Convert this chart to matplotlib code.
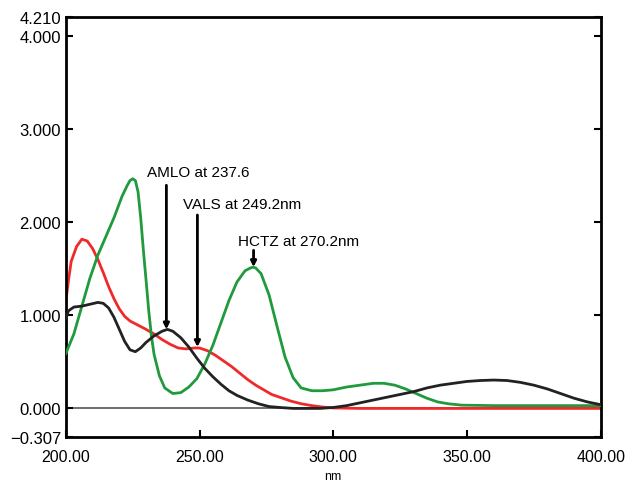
import matplotlib
matplotlib.use("Agg")
import matplotlib.pyplot as plt

plt.rcParams['font.family'] = ['Liberation Sans', 'DejaVu Sans']

# HCTZ (green)
hctz_nm = [200, 203, 206, 209, 212, 215, 218, 221, 223, 224, 225, 226, 227, 228, 229, 230,
           231, 232, 233, 235, 237, 240, 243, 246, 249, 252, 255, 258, 261, 264, 267,
           269, 270, 271, 273, 276, 279, 282, 285, 288, 292, 296, 300, 305, 310, 315, 319, 323,
           327, 331, 335, 339, 343, 348, 360, 380, 400]
hctz_abs = [0.59, 0.80, 1.10, 1.40, 1.65, 1.85, 2.05, 2.28, 2.40, 2.45, 2.47, 2.45, 2.33, 2.05, 1.70, 1.38,
            1.05, 0.78, 0.58, 0.35, 0.22, 0.16, 0.17, 0.23, 0.32, 0.48, 0.68, 0.92, 1.16, 1.36, 1.48,
            1.51, 1.52, 1.51, 1.45, 1.22, 0.88, 0.55, 0.33, 0.22, 0.19, 0.19, 0.20, 0.23, 0.25, 0.27, 0.27, 0.25,
            0.21, 0.16, 0.11, 0.07, 0.05, 0.035, 0.03, 0.03, 0.03]

# AMLO (black)
amlo_nm = [200, 201, 203, 206, 209, 212, 214, 216, 218, 220, 222, 224, 226, 228, 230,
           233, 236, 238, 240, 243, 246, 249, 252, 255, 258, 261, 264, 268, 272, 276,
           280, 285, 290, 295, 300, 305, 310, 315, 320, 325, 330, 335, 340, 345, 350,
           355, 360, 365, 370, 375, 380, 385, 390, 395, 400]
amlo_abs = [0.97, 1.05, 1.09, 1.10, 1.12, 1.14, 1.13, 1.08, 0.98, 0.85, 0.72, 0.63, 0.61, 0.65, 0.71,
            0.78, 0.83, 0.85, 0.83, 0.76, 0.66, 0.54, 0.43, 0.34, 0.26, 0.19, 0.14, 0.09, 0.05, 0.02,
            0.01, 0.0, 0.0, 0.0, 0.01, 0.03, 0.06, 0.09, 0.12, 0.15, 0.18, 0.22, 0.25, 0.27, 0.29,
            0.30, 0.305, 0.30, 0.28, 0.25, 0.21, 0.16, 0.11, 0.07, 0.04]

# VALS (red)
vals_nm = [200, 201, 202, 204, 206, 208, 210, 212, 214, 216, 218, 220, 222, 224, 226,
           228, 230, 233, 236, 239, 242, 245, 248, 250, 253, 256, 259, 262, 265, 268,
           271, 274, 277, 280, 284, 288, 292, 296, 300, 310, 400]
vals_abs = [1.15, 1.38, 1.58, 1.74, 1.82, 1.80, 1.72, 1.60, 1.46, 1.31, 1.18, 1.07, 0.99, 0.94, 0.91,
            0.88, 0.85, 0.80, 0.74, 0.69, 0.65, 0.64, 0.65, 0.65, 0.62, 0.57, 0.51, 0.45, 0.38, 0.31,
            0.25, 0.20, 0.15, 0.12, 0.08, 0.05, 0.03, 0.015, 0.005, 0.0, 0.0]

yticks = [-0.307, 0.0, 1.0, 2.0, 3.0, 4.0, 4.21]
ytick_labels = ["\u22120.307", "0.000", "1.000", "2.000", "3.000", "4.000", "4.210"]
xticks = [200, 250, 300, 350, 400]
xtick_labels = ["200.00", "250.00", "300.00", "350.00", "400.00"]

# annotations: label, wavelength, arrow top, arrow tip, text x, text y
notes = [("AMLO at 237.6", 237.6, 2.40, 0.85, 230.5, 2.54),
         ("VALS at 249.2nm", 249.2, 2.08, 0.66, 244.0, 2.20),
         ("HCTZ at 270.2nm", 270.2, 1.70, 1.52, 264.5, 1.80)]

fig = plt.figure(figsize=(6.27, 4.85), dpi=100)
ax = fig.add_axes([0.105, 0.097, 0.853, 0.866])

ax.axhline(0, color="#555555", lw=1.2, zorder=1)
ax.plot(hctz_nm, hctz_abs, color="#1f9a3c", lw=2, zorder=3)
ax.plot(vals_nm, vals_abs, color="#f02a2a", lw=2, zorder=2)
ax.plot(amlo_nm, amlo_abs, color="#222222", lw=2, zorder=4)

for label, wl, top, tip, tx, ty in notes:
    ax.annotate("", xy=(wl, tip), xytext=(wl, top),
                arrowprops=dict(arrowstyle="-|>", color="black", lw=2,
                                mutation_scale=8, shrinkA=0, shrinkB=0), zorder=5)
    ax.text(tx, ty, label, fontsize=11, va="center", ha="left", zorder=6)

ax.set_xlim(200, 400)
ax.set_ylim(-0.307, 4.21)
ax.set_xticks(xticks)
ax.set_xticklabels(xtick_labels)
ax.set_yticks(yticks)
ax.set_yticklabels(ytick_labels)
ax.tick_params(direction="in", length=5, width=1.5, labelsize=12, right=True, top=False)
ax.tick_params(axis="x", pad=9, labelsize=11.5)
ax.set_xlabel("nm", fontsize=9, labelpad=4)
for s in ax.spines.values():
    s.set_linewidth(2)

fig.savefig("out.png", dpi=100)
